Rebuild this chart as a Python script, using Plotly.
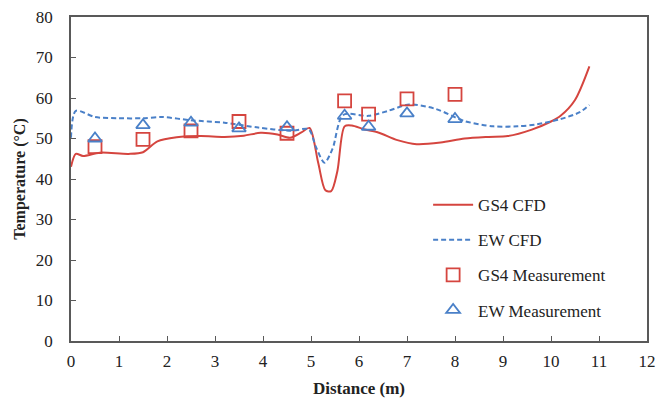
import plotly.graph_objects as go

# GS4 CFD curve
gs4_x = [0.0, 0.1, 0.25, 0.6, 1.2, 1.5, 1.8, 2.2, 2.7, 3.2, 3.6, 3.95, 4.3, 4.56, 4.8, 4.97, 5.15, 5.3, 5.42, 5.55, 5.7, 5.85, 6.1, 6.4, 6.8, 7.2, 7.7, 8.2, 8.7, 9.1, 9.6, 10.0, 10.2, 10.5, 10.8]
gs4_y = [43.0, 46.2, 45.7, 46.5, 46.2, 46.6, 49.3, 50.3, 50.6, 50.4, 50.7, 51.4, 51.0, 50.2, 51.5, 52.6, 44.0, 37.2, 37.0, 42.0, 53.0, 53.2, 52.3, 51.5, 49.6, 48.6, 49.0, 50.0, 50.4, 50.6, 52.2, 54.2, 55.6, 59.5, 67.8]

# EW CFD curve
ew_x = [0.0, 0.1, 0.5, 1.0, 1.5, 1.9, 2.5, 3.2, 3.9, 4.6, 4.95, 5.1, 5.28, 5.45, 5.67, 6.2, 6.6, 7.05, 7.6, 8.2, 8.8, 9.3, 9.7, 10.2, 10.6, 10.8]
ew_y = [50.2, 56.8, 55.3, 55.0, 55.0, 55.3, 54.5, 53.9, 52.7, 51.9, 52.3, 48.0, 44.0, 47.5, 55.8, 55.6, 56.8, 58.4, 57.3, 54.3, 53.0, 53.0, 53.5, 54.8, 56.5, 58.3]

# Measurements
meas_x = [0.5, 1.5, 2.5, 3.5, 4.5, 5.7, 6.2, 7.0, 8.0]
gs4_meas = [48.0, 49.8, 51.9, 54.2, 51.3, 59.3, 56.0, 59.8, 60.9]
ew_meas = [50.0, 53.3, 53.9, 52.5, 52.8, 55.6, 52.9, 56.2, 54.8]

RED = "#d5453f"
BLUE = "#4a80c8"
FONT = "Liberation Serif"

fig = go.Figure()
fig.add_trace(go.Scatter(x=gs4_x, y=gs4_y, mode="lines", name="GS4 CFD",
                         line=dict(color=RED, width=2, shape="spline", smoothing=0.8),
                         legendgroup="a"))
fig.add_trace(go.Scatter(x=ew_x, y=ew_y, mode="lines", name="EW CFD",
                         line=dict(color=BLUE, width=2, dash="5px,3px", shape="spline", smoothing=0.8),
                         legendgroup="b"))
fig.add_trace(go.Scatter(x=meas_x, y=gs4_meas, mode="markers", name="GS4 Measurement",
                         marker=dict(symbol="square-open", size=13, color=RED, line=dict(width=1.8, color=RED)),
                         legendgroup="c"))
fig.add_trace(go.Scatter(x=meas_x, y=ew_meas, mode="markers", name="EW Measurement",
                         marker=dict(symbol="triangle-up-open", size=12, color=BLUE, line=dict(width=1.8, color=BLUE)),
                         legendgroup="d"))

axis_common = dict(showgrid=False, zeroline=False, showline=True, linecolor="#595959", linewidth=1.5,
                   mirror=True, ticks="inside", ticklen=5, tickcolor="#595959", tickwidth=1,
                   automargin=False,
                   tickfont=dict(family=FONT, size=17, color="#222"))

fig.update_layout(
    width=668, height=398,
    margin=dict(l=71, r=21, t=17, b=57),
    paper_bgcolor="white", plot_bgcolor="white",
    font=dict(family=FONT, color="#222"),
    xaxis=dict(range=[0, 12], dtick=1, title=dict(text="<b>Distance (m)</b>", font=dict(family=FONT, size=17), standoff=12),
               ticklabelstandoff=4, **axis_common),
    yaxis=dict(range=[0, 80], dtick=10, title=dict(text="<b>Temperature (°C)</b>", font=dict(family=FONT, size=16), standoff=6),
               ticklabelstandoff=13, **axis_common),
    legend=dict(x=0.62, y=0.475, xanchor="left", yanchor="top", traceorder="grouped", tracegroupgap=10,
                font=dict(family=FONT, size=17, color="#222"), bgcolor="rgba(0,0,0,0)", itemwidth=40),
    showlegend=True,
)

fig.write_html("out.html")
